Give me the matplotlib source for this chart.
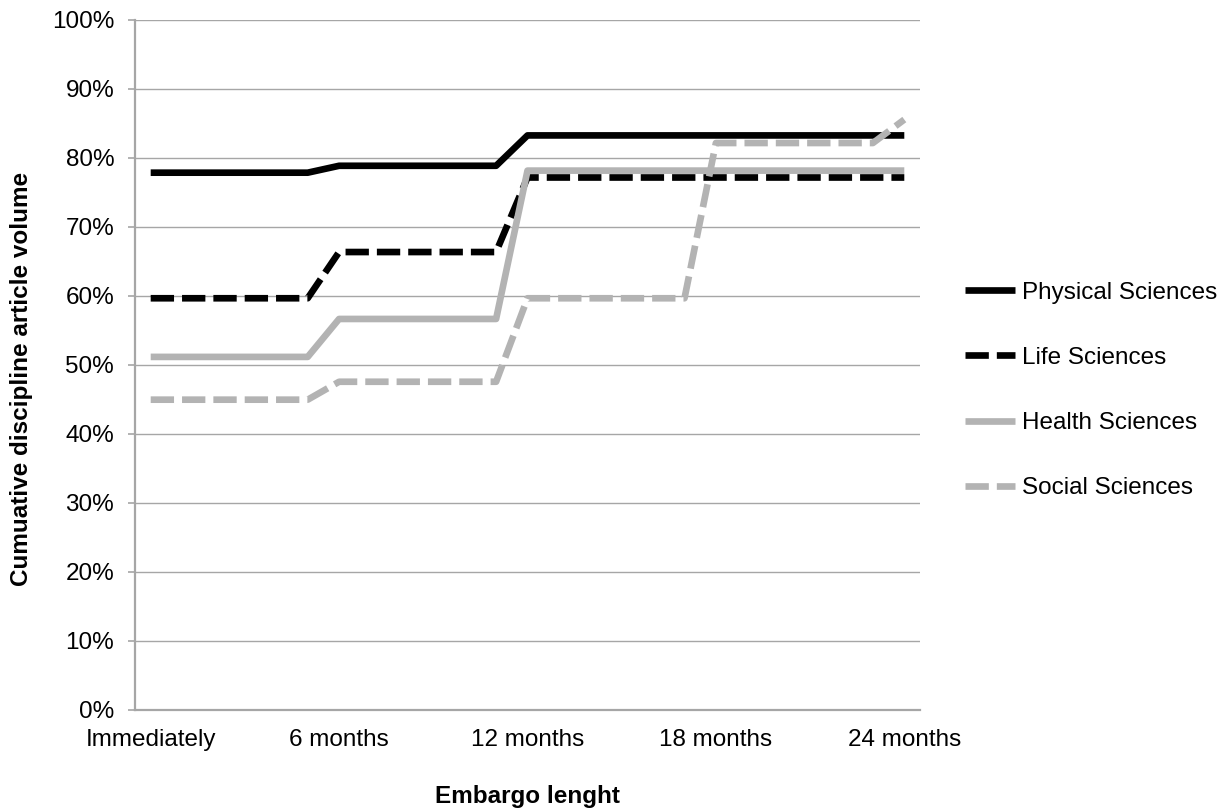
import matplotlib
matplotlib.use("Agg")
import matplotlib.pyplot as plt
from matplotlib.ticker import FuncFormatter, MultipleLocator

months = list(range(25))
tick_positions = [0, 6, 12, 18, 24]
tick_labels = ["Immediately", "6 months", "12 months", "18 months", "24 months"]

physical = [77.8, 77.8, 77.8, 77.8, 77.8, 77.8,
            78.8, 78.8, 78.8, 78.8, 78.8, 78.8,
            83.2, 83.2, 83.2, 83.2, 83.2, 83.2,
            83.2, 83.2, 83.2, 83.2, 83.2, 83.2, 83.2]
life = [59.6, 59.6, 59.6, 59.6, 59.6, 59.6,
        66.3, 66.3, 66.3, 66.3, 66.3, 66.3,
        77.1, 77.1, 77.1, 77.1, 77.1, 77.1,
        77.1, 77.1, 77.1, 77.1, 77.1, 77.1, 77.1]
health = [51.1, 51.1, 51.1, 51.1, 51.1, 51.1,
          56.6, 56.6, 56.6, 56.6, 56.6, 56.6,
          78.1, 78.1, 78.1, 78.1, 78.1, 78.1,
          78.1, 78.1, 78.1, 78.1, 78.1, 78.1, 78.1]
social = [44.9, 44.9, 44.9, 44.9, 44.9, 44.9,
          47.5, 47.5, 47.5, 47.5, 47.5, 47.5,
          59.6, 59.6, 59.6, 59.6, 59.6, 59.6,
          82.1, 82.1, 82.1, 82.1, 82.1, 82.1, 85.5]

series_names = ["Physical Sciences", "Life Sciences", "Health Sciences", "Social Sciences"]

plt.rcParams['font.family'] = ['Liberation Sans', 'DejaVu Sans']

W, H = 1228, 809
fig = plt.figure(figsize=(W / 100, H / 100), dpi=100)
ax = fig.add_axes([135 / W, 1 - 709.5 / H, 785 / W, 690 / H])

black = "#000000"
grey = "#b3b3b3"
lw = 4.8
dash = (3.5, 1.2)

ax.plot(months, physical, color=black, lw=lw, solid_capstyle="butt", label=series_names[0])
ax.plot(months, life, color=black, lw=lw, dashes=dash, label=series_names[1])
ax.plot(months, health, color=grey, lw=lw, solid_capstyle="butt", label=series_names[2])
ax.plot(months, social, color=grey, lw=lw, dashes=dash, label=series_names[3])

ax.set_xlim(-0.5, 24.5)
ax.set_ylim(0, 100)
ax.yaxis.set_major_locator(MultipleLocator(10))
ax.yaxis.set_major_formatter(FuncFormatter(lambda v, p: f"{int(round(v))}%"))
ax.set_xticks(tick_positions)
ax.set_xticklabels(tick_labels)

gcol = "#a6a6a6"
ax.grid(axis="y", color=gcol, lw=1.0)
ax.set_axisbelow(True)
for s in ["top", "right"]:
    ax.spines[s].set_visible(False)
for s in ["left", "bottom"]:
    ax.spines[s].set_color(gcol)
    ax.spines[s].set_linewidth(1.6)
ax.tick_params(axis="y", length=5, width=1.2, color=gcol, pad=10, labelsize=17.5)
ax.tick_params(axis="x", length=0, pad=14, labelsize=17.5)

fig.text(527.5 / W, 1 - 797 / H, "Embargo lenght", fontsize=17.5, fontweight="bold",
         ha="center", va="center")
fig.text(22 / W, 1 - 379 / H, "Cumuative discipline article volume", fontsize=17.5,
         fontweight="bold", rotation=90, ha="center", va="center")

leg = ax.legend(loc="center left", bbox_to_anchor=(965 / W, 1 - 390.5 / H),
                bbox_transform=fig.transFigure, frameon=False, fontsize=17.5,
                handlelength=2.06, handletextpad=0.3, labelspacing=1.78,
                borderpad=0, borderaxespad=0)

fig.savefig("out.png", dpi=100)
